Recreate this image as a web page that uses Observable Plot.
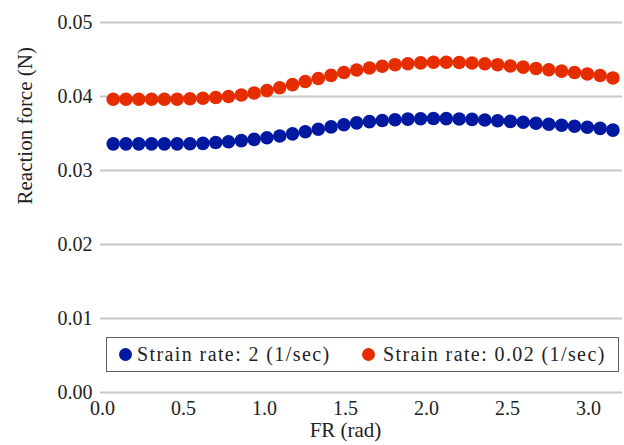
<!DOCTYPE html>
<html>
<head>
<meta charset="utf-8">
<script src="https://cdn.jsdelivr.net/npm/d3@7"></script>
<script src="https://cdn.jsdelivr.net/npm/@observablehq/plot@0.6"></script>
</head>
<body style="margin:0;padding:0;background:#fff;font-family:'Liberation Serif';font-size:20px">
<div id="chart"></div>
<div id="legend" style="position:absolute;left:106px;top:337px;width:511px;height:33px;border:1px solid #606060;background:#fff;font-family:'Liberation Serif'"></div>
<script>
// FR angle (rad) for each sample
const fr = [0.066, 0.145, 0.224, 0.303, 0.382, 0.461, 0.540, 0.620, 0.699, 0.778,
            0.857, 0.936, 1.015, 1.094, 1.173, 1.252, 1.332, 1.411, 1.490, 1.569,
            1.648, 1.727, 1.806, 1.885, 1.964, 2.043, 2.122, 2.202, 2.281, 2.360,
            2.439, 2.518, 2.597, 2.676, 2.755, 2.834, 2.914, 2.993, 3.072, 3.151];

const seriesNames = ["Strain rate: 2 (1/sec)", "Strain rate: 0.02 (1/sec)"];
const seriesColors = ["#0019a0", "#e52d00"];

// Reaction force (N), strain rate 2 (1/sec)
const force2 = [0.03360, 0.03360, 0.03360, 0.03360, 0.03360, 0.03360, 0.03361, 0.03367, 0.03378, 0.03389,
                0.03404, 0.03421, 0.03443, 0.03467, 0.03495, 0.03524, 0.03557, 0.03589, 0.03619, 0.03644,
                0.03661, 0.03676, 0.03686, 0.03694, 0.03699, 0.03703, 0.03701, 0.03696, 0.03691, 0.03683,
                0.03673, 0.03664, 0.03652, 0.03638, 0.03625, 0.03611, 0.03598, 0.03584, 0.03569, 0.03546];

// Reaction force (N), strain rate 0.02 (1/sec)
const force002 = [0.03962, 0.03962, 0.03962, 0.03962, 0.03962, 0.03962, 0.03969, 0.03976, 0.03986, 0.04000,
                  0.04020, 0.04047, 0.04081, 0.04119, 0.04160, 0.04203, 0.04244, 0.04285, 0.04325, 0.04359,
                  0.04386, 0.04409, 0.04430, 0.04443, 0.04454, 0.04462, 0.04463, 0.04459, 0.04453, 0.04443,
                  0.04430, 0.04413, 0.04397, 0.04379, 0.04362, 0.04343, 0.04324, 0.04305, 0.04283, 0.04251];

const xTicks = [0.0, 0.5, 1.0, 1.5, 2.0, 2.5, 3.0];
const yTicks = [0.00, 0.01, 0.02, 0.03, 0.04, 0.05];
const xLabel = "FR (rad)";
const yLabel = "Reaction force (N)";

const rows = [];
fr.forEach((x, i) => rows.push({x, y: force2[i], s: seriesNames[0]}));
fr.forEach((x, i) => rows.push({x, y: force002[i], s: seriesNames[1]}));

const plot = Plot.plot({
  width: 624,
  height: 445,
  marginLeft: 100,
  marginRight: 2,
  marginTop: 22,
  marginBottom: 53,
  style: { fontFamily: "Liberation Serif", fontSize: "20px", background: "#fff", color: "#222" },
  x: { domain: [-0.0123, 3.21] },
  y: { domain: [0, 0.05] },
  color: { domain: seriesNames, range: seriesColors },
  marks: [
    Plot.gridY(yTicks, { stroke: "#c8c8c8", strokeOpacity: 1, strokeWidth: 1.8 }),
    Plot.axisY(yTicks, { tickSize: 0, tickPadding: 8, tickFormat: d3.format(".2f"), fontSize: 20, label: null }),
    Plot.axisX(xTicks, { tickSize: 0, tickPadding: 8, tickFormat: d3.format(".1f"), fontSize: 20, label: null }),
    Plot.dot(rows, { x: "x", y: "y", fill: "s", r: 6.8, stroke: null }),
    Plot.text([xLabel], { frameAnchor: "bottom", dy: 38, dx: -16, fontSize: 21, lineAnchor: "middle" }),
    Plot.text([yLabel], { frameAnchor: "left", rotate: -90, dx: -75, dy: -3, fontSize: 21, lineAnchor: "middle" })
  ]
});
document.getElementById("chart").appendChild(plot);

const legend = document.getElementById("legend");
const swLeft = [12, 255];
const txtLeft = [30, 276];
seriesNames.forEach((name, i) => {
  const sw = document.createElement("div");
  sw.setAttribute("style", `position:absolute;top:10px;left:${swLeft[i]}px;width:13px;height:13px;border-radius:50%;background:${seriesColors[i]};`);
  legend.appendChild(sw);
  const t = document.createElement("div");
  t.setAttribute("style", `position:absolute;top:4px;left:${txtLeft[i]}px;font-family:'Liberation Serif';font-size:20px;line-height:24px;letter-spacing:1.4px;color:#222;white-space:nowrap;`);
  t.textContent = name;
  legend.appendChild(t);
});
</script>
</body>
</html>
